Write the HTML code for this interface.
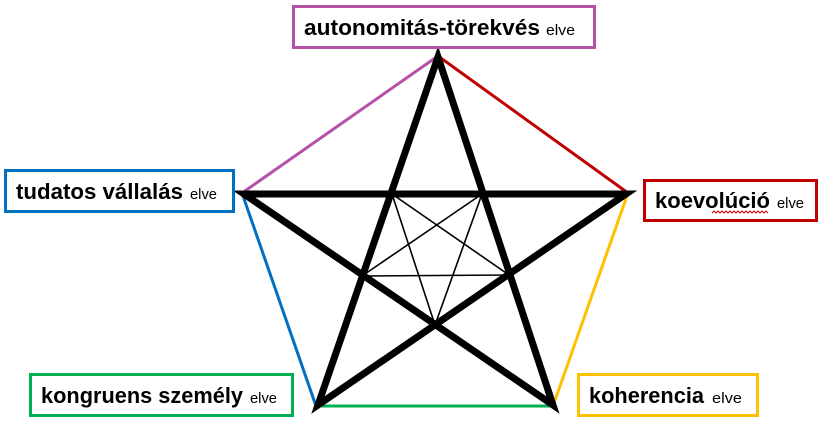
<!DOCTYPE html>
<html><head><meta charset="utf-8"><style>
html,body{margin:0;padding:0;background:#fff;width:826px;height:434px;overflow:hidden}
svg{display:block}
.b{font-family:"Liberation Sans",sans-serif;font-weight:bold;font-size:22px;fill:#000}
.e{font-family:"Liberation Sans",sans-serif;font-size:15px;fill:#000}
</style></head><body>
<svg width="826" height="434" viewBox="0 0 826 434">
<line x1="438" y1="56" x2="242" y2="193" stroke="#b452a8" stroke-width="3"/>
<line x1="438" y1="56" x2="628" y2="193" stroke="#c00000" stroke-width="3"/>
<line x1="628" y1="193" x2="553" y2="406" stroke="#ffc000" stroke-width="3"/>
<line x1="316" y1="406" x2="553" y2="406" stroke="#00b050" stroke-width="3"/>
<line x1="242" y1="193" x2="316" y2="406" stroke="#0070c0" stroke-width="3"/>
<polygon points="438,57 553,405 244,194 626,194 318,405" fill="none" stroke="#000" stroke-width="7" stroke-linejoin="miter" stroke-miterlimit="10"/>
<polygon points="392,194 435,325 482,194 362,276 509,275" fill="none" stroke="#000" stroke-width="1.6"/>
<rect x="293.5" y="6.5" width="301" height="41" fill="#fff" stroke="#b452a8" stroke-width="3"/>
<text class="b" x="304" y="35" textLength="236" lengthAdjust="spacingAndGlyphs">autonomitás-törekvés</text>
<text class="e" x="546" y="35" textLength="29" lengthAdjust="spacingAndGlyphs">elve</text>

<rect x="5.5" y="170.5" width="228" height="41" fill="#fff" stroke="#0070c0" stroke-width="3"/>
<text class="b" x="16" y="199" textLength="167" lengthAdjust="spacingAndGlyphs">tudatos vállalás</text>
<text class="e" x="190" y="199" textLength="27" lengthAdjust="spacingAndGlyphs">elve</text>

<rect x="644.5" y="180.5" width="172" height="40" fill="#fff" stroke="#c00000" stroke-width="3"/>
<text class="b" x="655" y="208" textLength="115" lengthAdjust="spacingAndGlyphs">koevolúció</text>
<text class="e" x="777" y="208" textLength="27" lengthAdjust="spacingAndGlyphs">elve</text>
<path d="M712 213 l2 -2 l2 2 l2 -2 l2 2 l2 -2 l2 2 l2 -2 l2 2 l2 -2 l2 2 l2 -2 l2 2 l2 -2 l2 2 l2 -2 l2 2 l2 -2 l2 2 l2 -2 l2 2 l2 -2 l2 2 l2 -2 l2 2 l2 -2 l2 2 l2 -2 l2 2" fill="none" stroke="#e00000" stroke-width="1"/>

<rect x="30.5" y="374.5" width="262" height="41" fill="#fff" stroke="#00b050" stroke-width="3"/>
<text class="b" x="41" y="403" textLength="202" lengthAdjust="spacingAndGlyphs">kongruens személy</text>
<text class="e" x="250" y="403" textLength="27" lengthAdjust="spacingAndGlyphs">elve</text>

<rect x="578.5" y="374.5" width="179" height="41" fill="#fff" stroke="#ffc000" stroke-width="3"/>
<text class="b" x="589" y="403" textLength="115" lengthAdjust="spacingAndGlyphs">koherencia</text>
<text class="e" x="712" y="403" textLength="30" lengthAdjust="spacingAndGlyphs">elve</text>
</svg>
</body></html>
